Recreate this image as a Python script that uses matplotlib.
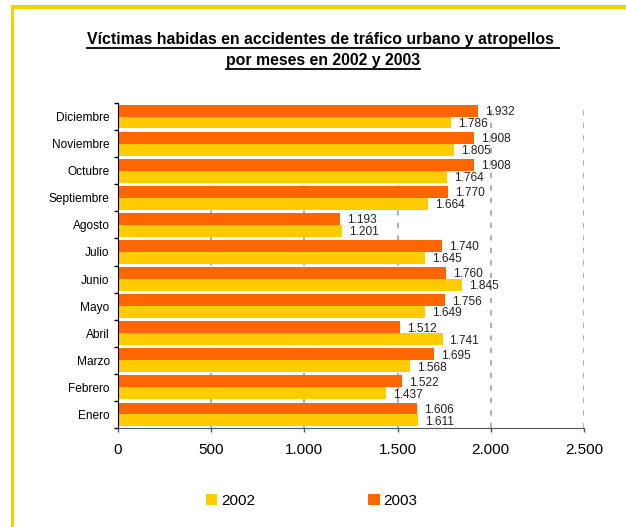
"""
Víctimas en accidentes de tráfico urbano y atropellos, 2002 vs 2003
"""

import matplotlib
matplotlib.use("Agg")
import matplotlib.pyplot as plt
from matplotlib.lines import Line2D
from matplotlib.patches import Patch, Rectangle
import numpy as np

plt.rcParams["font.family"] = ["Liberation Sans", "DejaVu Sans"]

# --- datos ---
meses = ["Enero", "Febrero", "Marzo", "Abril", "Mayo", "Junio",
         "Julio", "Agosto", "Septiembre", "Octubre", "Noviembre", "Diciembre"]
v2002 = [1611, 1437, 1568, 1741, 1649, 1845, 1645, 1201, 1664, 1764, 1805, 1786]
v2003 = [1606, 1522, 1695, 1512, 1756, 1760, 1740, 1193, 1770, 1908, 1908, 1932]
xticks = [0, 500, 1000, 1500, 2000, 2500]

C2002 = "#FFCC00"
C2003 = "#FF6600"
W, H = 626, 527


def fmt(v):
    return f"{v:,}".replace(",", ".")


fig = plt.figure(figsize=(W / 100, H / 100), dpi=100)
ax = fig.add_axes([118 / W, 1 - 428 / H, 466 / W, 325 / H])

y = np.arange(len(meses))
h = 0.44
ax.barh(y - h / 2, v2002, height=h, color=C2002, zorder=2)
ax.barh(y + h / 2, v2003, height=h, color=C2003, zorder=2)

# etiquetas de valor
for yi, a, b in zip(y, v2002, v2003):
    ax.annotate(fmt(a), (a, yi - h / 2), xytext=(5, -1), textcoords="offset points",
                va="center", ha="left", fontsize=8.6, color="#222222")
    ax.annotate(fmt(b), (b, yi + h / 2), xytext=(5, -1), textcoords="offset points",
                va="center", ha="left", fontsize=8.6, color="#222222")

ax.set_xlim(0, 2500)
ax.set_ylim(-0.5, len(meses) - 0.5)
ax.set_xticks(xticks)
ax.set_xticklabels([fmt(t) for t in xticks], fontsize=11)
ax.set_yticks(y)
ax.set_yticklabels(meses, fontsize=8.6)
ax.set_yticks(np.arange(len(meses) + 1) - 0.5, minor=True)
ax.tick_params(axis="y", which="major", length=0, pad=6)
ax.tick_params(axis="y", which="minor", length=3, width=1, color="black", direction="out")
ax.tick_params(axis="x", length=3, width=1, color="#555555", pad=8)

# rejilla discontinua detrás de las barras
for t in xticks[1:]:
    ax.axvline(t, color="#B0B0B0", linewidth=1.5, linestyle=(0, (2.5, 3.5)), zorder=1)

for s in ["top", "right"]:
    ax.spines[s].set_visible(False)
ax.spines["left"].set_color("black")
ax.spines["bottom"].set_color("#555555")

# --- título subrayado ---
t1 = fig.text(0.516, 1 - 44 / H, "Víctimas habidas en accidentes de tráfico urbano y atropellos ",
              ha="center", va="baseline", fontsize=11.4, fontweight="bold")
t2 = fig.text(0.516, 1 - 65 / H, "por meses en 2002 y 2003",
              ha="center", va="baseline", fontsize=11.4, fontweight="bold")
fig.canvas.draw()
r = fig.canvas.get_renderer()
inv = fig.transFigure.inverted()
for t, yy in [(t1, 47.5), (t2, 68.5)]:
    bb = t.get_window_extent(r)
    x0 = inv.transform((bb.x0, 0))[0]
    x1 = inv.transform((bb.x1, 0))[0]
    fig.add_artist(Line2D([x0, x1], [1 - yy / H] * 2, transform=fig.transFigure,
                          color="black", linewidth=1.3))

# --- leyenda ---
handles = [Patch(facecolor=C2002, label="2002"), Patch(facecolor=C2003, label="2003")]
fig.legend(handles=handles, loc="center", bbox_to_anchor=(0.498, 1 - 501 / H), ncol=2,
           frameon=False, fontsize=11, handlelength=0.75, handleheight=0.75,
           handletextpad=0.25, columnspacing=7.4)

# --- marco amarillo ---
fig.add_artist(Rectangle((11 / W, 0), 3 / W, 1 - 5 / H, transform=fig.transFigure,
                         color=C2002, linewidth=0))
fig.add_artist(Rectangle((11 / W, 1 - 9 / H), 1 - 11 / W, 4 / H, transform=fig.transFigure,
                         color=C2002, linewidth=0))

fig.savefig("out.png", dpi=100)
